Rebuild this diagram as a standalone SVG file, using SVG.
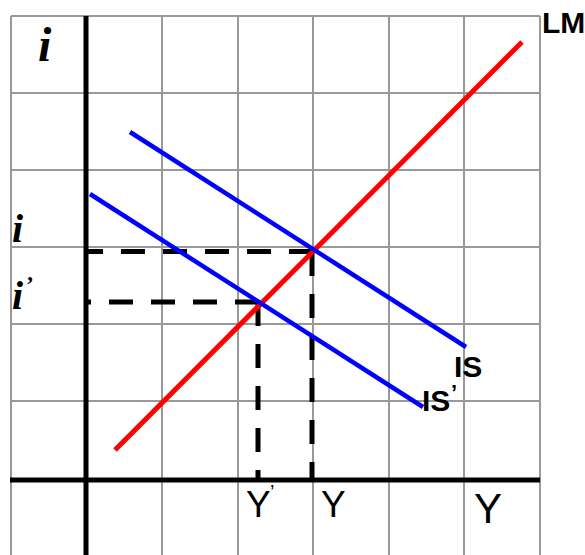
<svg xmlns="http://www.w3.org/2000/svg" width="585" height="555" viewBox="0 0 585 555">
<style>
.grid{stroke:#999;stroke-width:2;fill:none}
.axis{stroke:#000;stroke-width:5;fill:none}
.dash{stroke:#000;stroke-width:5;stroke-dasharray:24 18;fill:none}
.is{stroke:#00f;stroke-width:4.5;fill:none}
.lm{stroke:#f00;stroke-width:5;fill:none}
.lbl{font-family:"Liberation Sans",Arial,sans-serif;font-weight:bold;font-size:30px;fill:#000}
.ax{font-family:"Liberation Sans",Arial,sans-serif;font-size:37px;fill:#000}
.it{font-family:"Liberation Serif","Times New Roman",serif;font-weight:bold;font-style:italic;fill:#000}
</style>
<rect width="585" height="555" fill="#fff"/>
<g id="grid" class="grid">
<path d="M11 16V555M87 16V555M162 16V555M238 16V555M313 16V555M389 16V555M464 16V555M540 16V555"/>
<path d="M11 16H540M11 93H540M11 170H540M11 247H540M11 324H540M11 401H540"/>
</g>
<g id="axes" class="axis">
<line x1="86" y1="16" x2="86" y2="555"/>
<line x1="10" y1="480" x2="540" y2="480"/>
</g>
<g id="connectors">
<path class="dash" d="M313 251.5H88"/>
<path class="dash" d="M312 252V480"/>
<path class="dash" d="M259 302H88"/>
<path class="dash" d="M258 302V480"/>
</g>
<g id="LM"><line class="lm" x1="115" y1="450" x2="522" y2="42"/><text class="lbl" x="542" y="33">LM</text></g>
<g id="IS"><line class="is" x1="130" y1="132" x2="466" y2="347"/><text class="lbl" x="454" y="377">IS</text></g>
<g id="IS2"><line class="is" x1="90" y1="194" x2="423" y2="407"/><text class="lbl" x="422" y="411">IS</text><text class="lbl" x="451" y="400" style="font-size:22px">’</text></g>
<g id="labels">
<text class="it" x="38" y="61" style="font-size:48px">i</text>
<text class="it" x="12" y="242" style="font-size:40px">i</text>
<text class="it" x="12" y="309" style="font-size:40px">i</text>
<text class="it" x="25" y="292" style="font-size:24px">’</text>
<text class="ax" x="246" y="517">Y</text>
<text class="ax" x="270" y="499" style="font-size:20px">’</text>
<text class="ax" x="321" y="517">Y</text>
<text class="ax" x="474" y="523" style="font-size:42px">Y</text>
</g>
</svg>
